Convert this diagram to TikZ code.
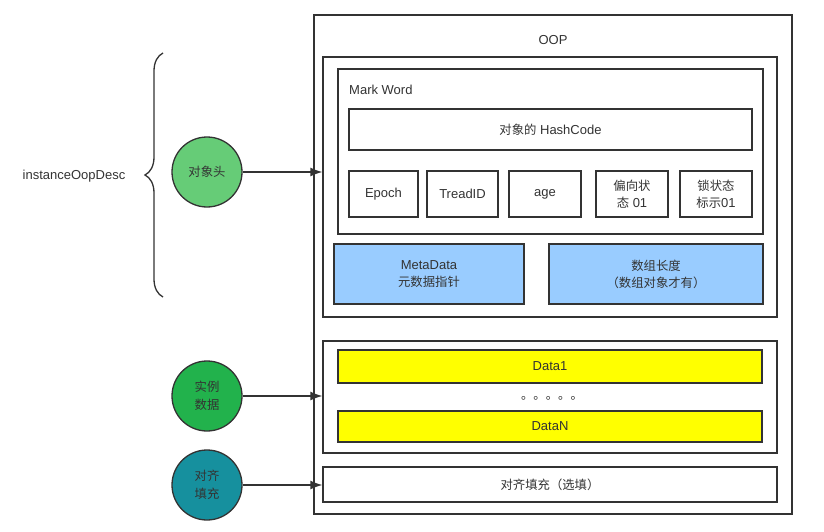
\documentclass[tikz,border=0pt]{standalone}
\usepackage{fontspec}
\setmainfont{Liberation Sans}
\newfontfamily\cjk[Scale=0.95]{Noto Sans CJK SC}
\usepackage{xcolor}
\usepackage{tikz}
\usetikzlibrary{shapes,calc,arrows,arrows.meta,positioning,decorations.pathreplacing}
\definecolor{linegray}{HTML}{333333}
\definecolor{headgreen}{HTML}{66CC77}
\definecolor{datagreen}{HTML}{22B24C}
\definecolor{padteal}{HTML}{16909E}
\definecolor{metablue}{HTML}{99CCFF}
\definecolor{datayellow}{HTML}{FFFF00}
\tikzset{
  box/.style={draw=linegray, line width=1.3pt, fill=white, inner sep=0pt, text=linegray, font=\fontsize{13}{17}\selectfont, align=center},
  bluebox/.style={box, fill=metablue},
  databox/.style={box, fill=datayellow},
  txt/.style={inner sep=0pt, text=linegray, font=\fontsize{13}{17}\selectfont, align=center},
  circ/.style={circle, draw=linegray, line width=1.3pt, minimum size=70pt, inner sep=0pt, text=linegray, font=\fontsize{13}{18}\selectfont, align=center},
  arr/.style={-{Latex[length=12pt,width=9pt]}, draw=linegray, line width=1.3pt}
}

\begin{document}
\begin{tikzpicture}[x=1pt,y=-1pt]
  \useasboundingbox (0,0) rectangle (824,532);
  % object layout
  \node[box, minimum width=478pt, minimum height=499pt] (oop) at (553,264.5) {};
  \node[txt] (ooptitle) at (553,40) {OOP};
  % object header
  \node[box, minimum width=454pt, minimum height=260pt] (hdr) at (550,187) {};
  \node[box, minimum width=425pt, minimum height=165pt] (mw) at (550.5,151.5) {};
  \node[txt, anchor=west] (mwtitle) at (349,90) {Mark Word};
  \node[box, minimum width=403pt, minimum height=41pt] (hash) at (550.5,129.5) {{\cjk 对象的} HashCode};
  \node[box, minimum width=69pt, minimum height=46pt] (epoch) at (383.5,194) {Epoch};
  \node[box, minimum width=71pt, minimum height=46pt] (tid) at (462.5,194) {TreadID};
  \node[box, minimum width=72pt, minimum height=46pt] (age) at (545,194) {age};
  \node[box, minimum width=72pt, minimum height=46pt] (bias) at (632,194) {{\cjk 偏向状}\\{\cjk 态} 01};
  \node[box, minimum width=72pt, minimum height=46pt] (lock) at (716,194) {{\cjk 锁状态}\\{\cjk 标示}01};
  \node[bluebox, minimum width=190pt, minimum height=60pt] (meta) at (429,274) {MetaData\\{\cjk 元数据指针}};
  \node[bluebox, minimum width=214pt, minimum height=60pt] (arrlen) at (656,274) {{\cjk 数组长度}\\{\cjk （数组对象才有）}};
  % instance data
  \node[box, minimum width=454pt, minimum height=112pt] (inst) at (550,397) {};
  \node[databox, minimum width=424pt, minimum height=33pt] (data1) at (550,366.5) {Data1};
  \node[txt] (dots) at (552,398) {\cjk 。。。。。};
  \node[databox, minimum width=424pt, minimum height=31pt] (datan) at (550,426.5) {DataN};
  % padding
  \node[box, minimum width=454pt, minimum height=35pt] (pad) at (550,484.5) {{\cjk 对齐填充（选填）}};
  % left side
  \node[circ, fill=headgreen] (head) at (207,172) {\cjk 对象头};
  \node[circ, fill=datagreen] (idata) at (207,396) {\cjk 实例\\\cjk 数据};
  \node[circ, fill=padteal] (ipad) at (207,485) {\cjk 对齐\\\cjk 填充};
  \draw[arr] (head.east) -- (head.east -| hdr.west);
  \draw[arr] (idata.east) -- (idata.east -| inst.west);
  \draw[arr] (ipad.east) -- (ipad.east -| pad.west);
  \draw[linegray, line width=1.3pt, decorate, decoration={brace, amplitude=18pt}] (163,297) -- (163,53);
  \node[txt] (desc) at (74,176) {instanceOopDesc};
\end{tikzpicture}
\end{document}
